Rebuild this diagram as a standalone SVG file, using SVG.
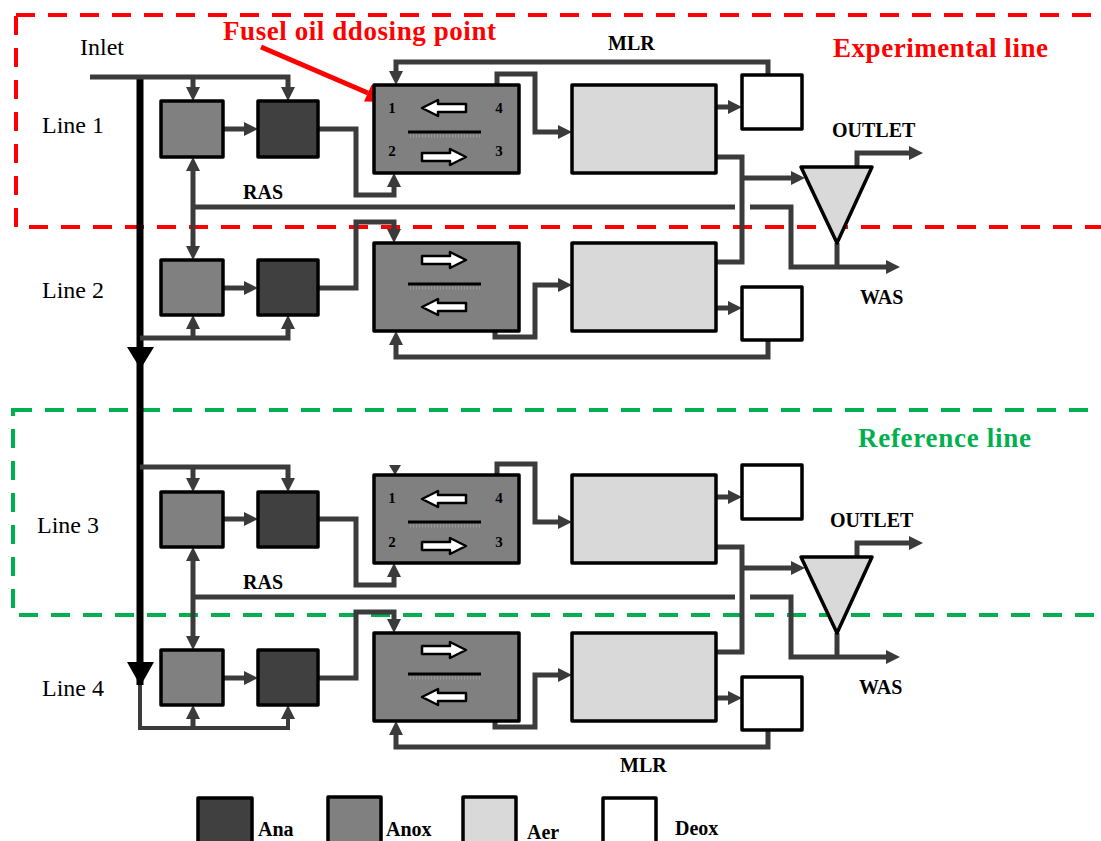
<svg xmlns="http://www.w3.org/2000/svg" xmlns:xlink="http://www.w3.org/1999/xlink" width="1101" height="841" viewBox="0 0 1101 841">
<style>
.box{stroke:#000;stroke-width:3.5;stroke-linejoin:round}
.ana{fill:#404040}.anox{fill:#808080}.aer{fill:#d9d9d9}.deox{fill:#fff}
.c{fill:none;stroke:#3b3b3b;stroke-width:5;stroke-linejoin:miter}
.ca{marker-end:url(#ah)}
.cb{marker-start:url(#ah);marker-end:url(#ah)}
.main{fill:none;stroke:#000;stroke-width:7}
.lbl{font-family:"Liberation Serif","Times New Roman",serif;font-size:24px;fill:#000}
.b{font-family:"Liberation Serif","Times New Roman",serif;font-weight:bold;font-size:20px;fill:#000}
.num{font-family:"Liberation Serif","Times New Roman",serif;font-weight:bold;font-size:15px;fill:#000;text-anchor:middle}
.big{font-family:"Liberation Serif","Times New Roman",serif;font-weight:bold;font-size:27px}
.div{stroke:#000;stroke-width:3}
.hat{stroke:#9a9a9a;stroke-width:3;stroke-dasharray:1 2}
.wa{fill:#fff;stroke:#000;stroke-width:2.5;stroke-linejoin:round}
</style>
<defs>
<marker id="ah" viewBox="0 0 14 14" markerWidth="14" markerHeight="14" refX="2" refY="7" orient="auto-start-reverse" markerUnits="userSpaceOnUse"><path d="M0,0 L14,7 L0,14 z" fill="#3b3b3b"/></marker>
<path id="ra" d="M-22,-4 H6 V-8 L22,0 L6,8 V4 H-22 Z"/>
</defs>
<rect width="1101" height="841" fill="#fff"/>

<g id="zones">
<rect x="16" y="15" width="1110" height="212" fill="none" stroke="#ff0000" stroke-width="4" stroke-dasharray="19 13"/>
<rect x="13" y="410" width="1110" height="205" fill="none" stroke="#00b050" stroke-width="4" stroke-dasharray="19 13"/>
<text class="big" x="833" y="57" fill="#ff0000" textLength="215">Experimental line</text>
<text class="big" x="858" y="447" fill="#00b050" textLength="173">Reference line</text>
</g>

<g id="connectors">
<path class="main" d="M140 79 V685"/>
<polygon points="127,347 154,347 140.5,369" fill="#000"/>
<polygon points="127,662 154,662 140.5,686" fill="#000"/>
<!-- line 1 -->
<path class="c ca" d="M90 77 H288 V89"/>
<path class="c ca" d="M193 77 V89"/>
<path class="c ca" d="M223 129 H246"/>
<path class="c ca" d="M318 129 H356 V195 H394 V185"/>
<path class="c cb" d="M193 169 V248"/>
<path class="c" d="M193 207 H735"/>
<path class="c ca" d="M750 207 H791 V267 H888"/>
<path class="c ca" d="M497 85 V74 H535 V132 H560"/>
<path class="c ca" d="M716 107 H730"/>
<path class="c ca" d="M768 75 V62 H396 V73"/>
<path class="c" d="M716 157 H742 V262 H716"/>
<path class="c ca" d="M742 178 H793"/>
<path class="c ca" d="M857 167 V153 H911"/>
<path class="c" d="M837 243 V267"/>
<!-- line 2 -->
<path class="c ca" d="M318 288 H356 V222 H394 V231"/>
<path class="c ca" d="M140 338 H288 V327"/>
<path class="c ca" d="M193 338 V327"/>
<path class="c ca" d="M223 288 H246"/>
<path class="c ca" d="M495 331 V337 H535 V285 H560"/>
<path class="c ca" d="M716 308 H730"/>
<path class="c ca" d="M768 340 V357 H396 V343"/>
<!-- line 3 -->
<path class="c ca" d="M140 467 H288 V480"/>
<path class="c ca" d="M193 467 V480"/>
<path class="c ca" d="M223 519 H246"/>
<path class="c ca" d="M318 519 H356 V585 H394 V575"/>
<path class="c cb" d="M193 559 V638"/>
<path class="c" d="M193 597 H735"/>
<path class="c ca" d="M750 597 H791 V657 H888"/>
<path class="c ca" d="M497 475 V464 H535 V522 H560"/>
<path class="c ca" d="M716 497 H730"/>
<polygon points="389,465 401,465 395,475" fill="#3b3b3b"/>
<path class="c" d="M716 547 H742 V652 H716"/>
<path class="c ca" d="M742 568 H793"/>
<path class="c ca" d="M857 557 V543 H911"/>
<path class="c" d="M837 633 V657"/>
<!-- line 4 -->
<path class="c ca" d="M318 678 H356 V612 H394 V621"/>
<path class="c ca" d="M140 685 V728 H288 V717" style="stroke-width:4"/>
<path class="c ca" d="M193 728 V717"/>
<path class="c ca" d="M223 678 H246"/>
<path class="c ca" d="M495 721 V727 H535 V675 H560"/>
<path class="c ca" d="M716 698 H730"/>
<path class="c ca" d="M768 730 V747 H396 V733"/>
<!-- dosing arrow -->
<path d="M261 47 L368 93" stroke="#ff0000" stroke-width="5" fill="none"/>
<polygon points="388,102 364,101.5 371.5,85" fill="#ff0000"/>
</g>

<g id="labels">
<text class="lbl" x="80" y="55">Inlet</text>
<text class="lbl" x="42" y="133">Line 1</text>
<text class="lbl" x="42" y="298">Line 2</text>
<text class="lbl" x="37" y="533">Line 3</text>
<text class="lbl" x="42" y="696">Line 4</text>
<text class="b" x="243" y="199">RAS</text>
<text class="b" x="243" y="589">RAS</text>
<text class="b" x="608" y="50">MLR</text>
<text class="b" x="620" y="772">MLR</text>
<text class="b" x="832" y="137">OUTLET</text>
<text class="b" x="830" y="527">OUTLET</text>
<text class="b" x="860" y="304">WAS</text>
<text class="b" x="859" y="694">WAS</text>
<text class="big" x="223" y="40" fill="#ff0000" textLength="273">Fusel oil ddosing point</text>
</g>

<g id="anox1"><rect class="box anox" x="161" y="101" width="62" height="56"/></g>
<g id="ana1"><rect class="box ana" x="258" y="101" width="60" height="56"/></g>
<g id="tank1">
<rect class="box anox" x="374" y="85" width="145" height="88"/>
<text class="num" x="392" y="113">1</text><text class="num" x="499" y="113">4</text>
<text class="num" x="392" y="156">2</text><text class="num" x="499" y="156">3</text>
<use xlink:href="#ra" class="wa" transform="translate(444,108) rotate(180)"/>
<use xlink:href="#ra" class="wa" transform="translate(444,157)"/>
<line class="div" x1="408" y1="132" x2="481" y2="132"/><line class="hat" x1="410" y1="136" x2="480" y2="136"/>
</g>
<g id="aer1"><rect class="box aer" x="572" y="85" width="144" height="88"/></g>
<g id="deox1"><rect class="box deox" x="742" y="75" width="60" height="54"/></g>
<g id="clarifier1"><polygon class="box aer" points="801,167 872,167 837,243"/></g>

<g id="anox2"><rect class="box anox" x="161" y="260" width="62" height="55"/></g>
<g id="ana2"><rect class="box ana" x="258" y="260" width="60" height="55"/></g>
<g id="tank2">
<rect class="box anox" x="374" y="243" width="145" height="88"/>
<use xlink:href="#ra" class="wa" transform="translate(444,260)"/>
<use xlink:href="#ra" class="wa" transform="translate(444,307) rotate(180)"/>
<line class="div" x1="408" y1="284" x2="481" y2="284"/><line class="hat" x1="410" y1="288" x2="480" y2="288"/>
</g>
<g id="aer2"><rect class="box aer" x="572" y="243" width="144" height="88"/></g>
<g id="deox2"><rect class="box deox" x="742" y="287" width="60" height="53"/></g>

<g id="anox3"><rect class="box anox" x="161" y="492" width="62" height="55"/></g>
<g id="ana3"><rect class="box ana" x="258" y="492" width="60" height="55"/></g>
<g id="tank3">
<rect class="box anox" x="374" y="475" width="145" height="88"/>
<text class="num" x="392" y="503">1</text><text class="num" x="499" y="503">4</text>
<text class="num" x="392" y="547">2</text><text class="num" x="499" y="547">3</text>
<use xlink:href="#ra" class="wa" transform="translate(444,499) rotate(180)"/>
<use xlink:href="#ra" class="wa" transform="translate(444,546)"/>
<line class="div" x1="408" y1="522" x2="481" y2="522"/><line class="hat" x1="410" y1="526" x2="480" y2="526"/>
</g>
<g id="aer3"><rect class="box aer" x="572" y="475" width="144" height="88"/></g>
<g id="deox3"><rect class="box deox" x="742" y="465" width="60" height="54"/></g>
<g id="clarifier2"><polygon class="box aer" points="801,557 872,557 837,633"/></g>

<g id="anox4"><rect class="box anox" x="161" y="650" width="62" height="55"/></g>
<g id="ana4"><rect class="box ana" x="258" y="650" width="60" height="55"/></g>
<g id="tank4">
<rect class="box anox" x="374" y="633" width="145" height="88"/>
<use xlink:href="#ra" class="wa" transform="translate(444,650)"/>
<use xlink:href="#ra" class="wa" transform="translate(444,697) rotate(180)"/>
<line class="div" x1="408" y1="674" x2="481" y2="674"/><line class="hat" x1="410" y1="678" x2="480" y2="678"/>
</g>
<g id="aer4"><rect class="box aer" x="572" y="633" width="144" height="88"/></g>
<g id="deox4"><rect class="box deox" x="742" y="677" width="60" height="53"/></g>

<g id="legend">
<rect class="box ana" x="198" y="798" width="54" height="52"/><text class="b" x="258" y="836">Ana</text>
<rect class="box anox" x="328" y="797" width="53" height="52"/><text class="b" x="386" y="836">Anox</text>
<rect class="box aer" x="463" y="797" width="53" height="52"/><text class="b" x="527" y="839">Aer</text>
<rect class="box deox" x="603" y="798" width="53" height="52"/><text class="b" x="675" y="835">Deox</text>
</g>
</svg>
